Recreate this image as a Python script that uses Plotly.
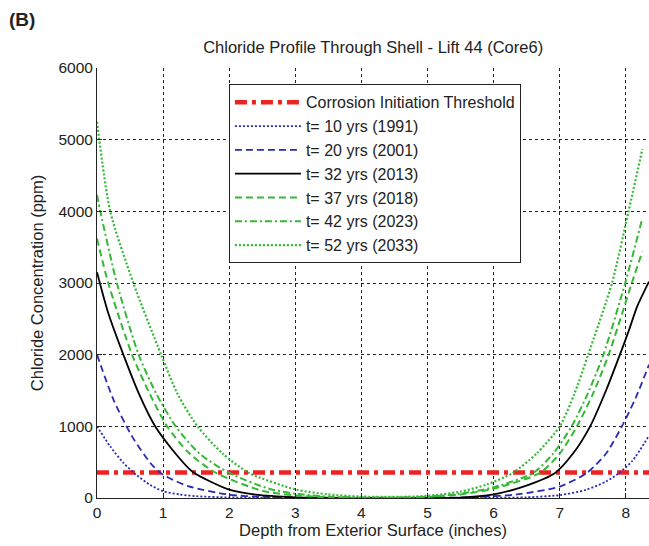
import plotly.graph_objects as go

# ---- data ----
threshold = 355
x_range_max = 8.35

x_t10 = [0, 0.2, 0.4, 0.6, 0.8, 1.0, 1.25, 1.5, 2.0, 2.5, 3.0, 4.0, 5.0, 6.0, 6.5, 7.0, 7.4, 7.7, 7.9, 8.1, 8.35]
y_t10 = [1000, 720, 490, 320, 185, 95, 50, 25, 8, 3, 1, 0, 0, 3, 10, 40, 115, 230, 350, 520, 870]

x_t20 = [0, 0.25, 0.53, 0.83, 1.0, 1.39, 2.0, 2.5, 3.0, 4.0, 5.0, 5.8, 6.35, 7.0, 7.41, 7.7, 7.94, 8.15, 8.35]
y_t20 = [2000, 1370, 860, 464, 325, 162, 46, 15, 5, 0, 0, 15, 50, 160, 350, 620, 1000, 1400, 1860]

x_t32 = [0, 0.17, 0.38, 0.63, 0.88, 1.14, 1.44, 2.0, 2.4, 3.0, 3.5, 4.5, 5.5, 6.0, 6.45, 6.93, 7.2, 7.46, 7.7, 7.91, 8.05, 8.17, 8.35]
y_t32 = [3150, 2580, 2045, 1464, 1000, 674, 371, 116, 46, 10, 3, 0, 5, 50, 160, 350, 620, 1000, 1500, 2000, 2350, 2670, 3020]

x_t37 = [0, 0.17, 0.53, 0.8, 1.06, 1.4, 1.8, 2.5, 3.0, 3.5, 4.0, 4.5, 5.0, 5.5, 6.0, 6.7, 7.0, 7.26, 7.5, 7.74, 8.09, 8.25]
y_t37 = [3620, 3000, 2000, 1450, 1000, 620, 350, 100, 35, 10, 3, 5, 15, 50, 130, 350, 620, 1000, 1450, 2000, 3000, 3440]

x_t42 = [0, 0.05, 0.30, 0.63, 0.9, 1.19, 1.55, 2.0, 2.6, 3.0, 3.5, 4.0, 4.5, 5.0, 5.5, 6.0, 6.6, 6.9, 7.18, 7.42, 7.66, 7.99, 8.25]
y_t42 = [4230, 4000, 3000, 2000, 1450, 1000, 620, 350, 130, 60, 20, 8, 8, 20, 60, 150, 350, 620, 1000, 1450, 2000, 3000, 3905]

x_t52 = [0, 0.20, 0.55, 0.97, 1.22, 1.52, 1.9, 2.3, 3.0, 3.5, 4.0, 4.5, 5.0, 5.5, 5.9, 6.29, 6.65, 7.0, 7.22, 7.43, 7.79, 8.04, 8.25]
y_t52 = [5250, 4000, 3000, 2000, 1450, 1000, 620, 350, 120, 50, 20, 15, 30, 90, 190, 350, 620, 1000, 1450, 2000, 3000, 4000, 4868]

series_names = ["t= 10 yrs (1991)", "t= 20 yrs (2001)", "t= 32 yrs (2013)",
                "t= 37 yrs (2018)", "t= 42 yrs (2023)", "t= 52 yrs (2033)"]

BLUE = "#2a2ab4"
GREEN = "#35b835"
RED = "#ee2222"
INK = "#222222"

fig = go.Figure()

fig.add_trace(go.Scatter(
    x=[0, x_range_max], y=[threshold, threshold], mode="lines",
    name="Corrosion Initiation Threshold",
    line=dict(color=RED, width=4.5, dash="12px,5px,4px,5px")))

styles = [
    (x_t10, y_t10, BLUE, "2px,2px", 1.8),
    (x_t20, y_t20, BLUE, "7px,4px", 1.8),
    (x_t32, y_t32, "black", "solid", 1.8),
    (x_t37, y_t37, GREEN, "7px,4px", 2),
    (x_t42, y_t42, GREEN, "7px,3px,2px,3px", 2),
    (x_t52, y_t52, GREEN, "2px,2px", 2.2),
]
for name, (xs, ys, col, dash, w) in zip(series_names, styles):
    fig.add_trace(go.Scatter(
        x=xs, y=ys, mode="lines", name=name,
        line=dict(color=col, width=w, dash=dash, shape="spline", smoothing=0.7)))

FONT = "Liberation Sans, Arial, sans-serif"

fig.update_layout(
    width=649, height=546,
    margin=dict(l=97, r=0, t=68, b=48),
    paper_bgcolor="white", plot_bgcolor="white",
    font=dict(family=FONT, color=INK, size=16),
    title=dict(text="Chloride Profile Through Shell - Lift 44 (Core6)",
               x=0.575, xanchor="center", y=1 - 47 / 546, yanchor="middle",
               font=dict(size=16.5, family=FONT, color=INK)),
    showlegend=True,
    legend=dict(x=0.239, y=0.962, xanchor="left", yanchor="top",
                bgcolor="white", bordercolor=INK, borderwidth=1,
                font=dict(size=16, family=FONT, color=INK),
                itemwidth=66, tracegroupgap=0),
    annotations=[dict(text="<b>(B)</b>", x=(7 - 97) / 552, y=(498 - 20) / 430,
                      xref="paper", yref="paper",
                      xanchor="left", yanchor="middle", showarrow=False,
                      font=dict(size=19, family=FONT, color=INK))],
)

fig.update_xaxes(
    range=[0, x_range_max], tickvals=[0, 1, 2, 3, 4, 5, 6, 7, 8],
    showgrid=True, gridcolor=INK, griddash="dot", gridwidth=1,
    showline=True, linecolor=INK, linewidth=1, mirror=False,
    ticks="inside", ticklen=5, tickcolor=INK,
    tickfont=dict(size=15.5), zeroline=False,
    title=dict(text="Depth from Exterior Surface (inches)", font=dict(size=16.5), standoff=4))

fig.update_yaxes(
    range=[0, 6000], tickvals=[0, 1000, 2000, 3000, 4000, 5000, 6000],
    showgrid=True, gridcolor=INK, griddash="dot", gridwidth=1,
    showline=True, linecolor=INK, linewidth=1, mirror=False,
    ticks="inside", ticklen=5, tickcolor=INK,
    tickfont=dict(size=15.5), zeroline=False,
    title=dict(text="Chloride Concentration (ppm)", font=dict(size=16.5), standoff=10))

fig.write_html("out.html")
